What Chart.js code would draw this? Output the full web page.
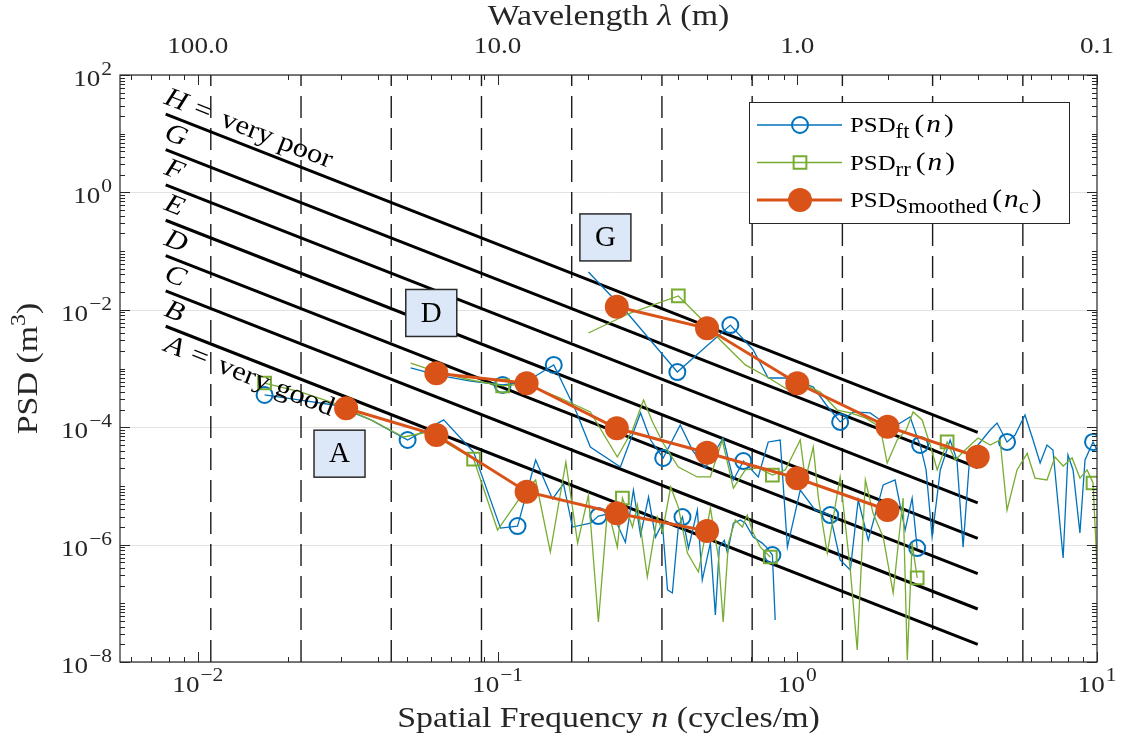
<!DOCTYPE html>
<html>
<head>
<meta charset="utf-8">
<script src="https://cdn.jsdelivr.net/npm/chart.js@4.4.1/dist/chart.umd.min.js"></script>
<style>
  html, body { margin: 0; padding: 0; background: #fff; }
  #wrap { width: 1123px; height: 744px; }
</style>
</head>
<body>
<div id="wrap"><canvas id="psdChart" width="1123" height="744"></canvas></div>
<script>
// measured road profile spectra, three road sections (A, D, G)
const ftRoadA_n = [0.0167, 0.0220, 0.0284, 0.0378, 0.0501, 0.0661, 0.0832, 0.1023, 0.1166, 0.134, 0.1525, 0.166, 0.1778, 0.204, 0.217, 0.2415, 0.267, 0.284, 0.300, 0.319, 0.3365, 0.3548, 0.369, 0.383, 0.401, 0.414, 0.4335, 0.4642, 0.482, 0.513, 0.533, 0.5495, 0.571, 0.585, 0.612, 0.646, 0.671, 0.713, 0.764, 0.794, 0.826, 0.844];
const ftRoadA_psd = [3.54e-4, 2.90e-4, 2.39e-4, 1.33e-4, 6.05e-5, 1.33e-4, 3.78e-5, 1.91e-6, 2.07e-6, 2.76e-5, 5.98e-6, 1.08e-5, 1.99e-6, 2.32e-6, 3.06e-6, 3.44e-6, 1.10e-6, 8.47e-6, 1.45e-6, 6.47e-6, 1.34e-6, 2.32e-6, 1.69e-7, 1.50e-7, 1.99e-6, 2.94e-6, 8.71e-7, 3.87e-6, 2.49e-7, 1.06e-6, 6.31e-8, 9.06e-7, 1.19e-6, 7.16e-7, 2.32e-6, 2.63e-6, 2.32e-6, 1.34e-6, 1.06e-6, 8.71e-7, 6.65e-7, 5.19e-8];
const ftRoadA_marks = [0, 4, 8, 14, 25, 40];

const ftRoadD_n = [0.0513, 0.0631, 0.0813, 0.104, 0.124, 0.154, 0.182, 0.204, 0.257, 0.300, 0.324, 0.357, 0.407, 0.447, 0.493, 0.566, 0.612, 0.661, 0.741, 0.80, 0.877, 0.927, 1.023, 1.148, 1.288, 1.39, 1.503, 1.597, 1.725, 1.935, 2.12, 2.29, 2.417, 2.512];
const ftRoadD_psd = [1.02e-3, 7.74e-4, 6.12e-4, 5.24e-4, 5.89e-4, 1.15e-3, 1.96e-4, 4.60e-5, 2.10e-5, 1.75e-4, 6.05e-5, 2.99e-5, 1.09e-4, 4.08e-5, 2.02e-5, 6.55e-5, 1.26e-5, 2.65e-5, 1.42e-5, 5.60e-5, 6.05e-5, 9.06e-7, 8.47e-6, 3.87e-6, 3.18e-6, 5.47e-7, 3.69e-7, 5.75e-6, 1.19e-6, 1.04e-5, 1.26e-5, 1.77e-6, 6.22e-6, 8.71e-7];
const ftRoadD_marks = [3, 5, 11, 17, 24, 33];

const ftRoadG_n = [0.201, 0.271, 0.398, 0.598, 0.713, 0.80, 0.948, 1.131, 1.25, 1.39, 1.538, 1.75, 1.89, 2.089, 2.38, 2.53, 2.57, 2.69, 2.818, 3.0, 3.236, 3.41, 3.575, 3.776, 4.01, 4.40, 4.64, 5.01, 5.33, 5.75, 6.12, 6.46, 6.81, 7.13, 7.71, 8.0, 8.32, 8.77, 9.12, 9.70, 10.0];
const ftRoadG_psd = [4.41e-2, 8.81e-3, 8.71e-4, 5.50e-3, 2.07e-3, 6.89e-4, 6.89e-4, 4.84e-4, 2.39e-4, 1.23e-4, 1.82e-4, 1.75e-4, 1.33e-4, 1.0e-4, 1.49e-4, 6.05e-5, 4.98e-5, 1.87e-5, 1.34e-6, 1.87e-5, 6.05e-5, 2.76e-5, 9.06e-7, 4.08e-5, 4.98e-5, 8.95e-5, 1.18e-4, 5.60e-5, 7.36e-5, 1.61e-4, 6.05e-5, 2.45e-5, 4.98e-5, 4.08e-5, 5.92e-7, 3.36e-5, 1.87e-5, 1.58e-6, 2.76e-5, 5.60e-5, 4.08e-5];
const ftRoadG_marks = [2, 3, 9, 16, 27, 39];

const rrRoadA_n = [0.0167, 0.0220, 0.0284, 0.0378, 0.0486, 0.0585, 0.0832, 0.100, 0.1194, 0.134, 0.150, 0.169, 0.185, 0.201, 0.217, 0.233, 0.251, 0.261, 0.271, 0.282, 0.293, 0.316, 0.341, 0.355, 0.378, 0.401, 0.430, 0.468, 0.513, 0.546, 0.566, 0.589, 0.621, 0.656, 0.681, 0.713, 0.753, 0.813];
const rrRoadA_psd = [5.66e-4, 3.98e-4, 2.58e-4, 1.33e-4, 6.81e-5, 8.28e-5, 2.87e-5, 1.77e-6, 6.47e-6, 1.26e-5, 7.48e-7, 2.55e-5, 1.06e-6, 7.0e-6, 4.80e-8, 4.19e-6, 9.06e-7, 6.22e-6, 3.58e-6, 1.99e-6, 4.73e-6, 2.81e-7, 2.94e-6, 1.64e-6, 9.57e-6, 4.36e-6, 7.16e-7, 3.41e-7, 4.19e-6, 5.92e-7, 4.80e-8, 1.06e-6, 2.63e-6, 1.99e-6, 3.18e-6, 1.58e-6, 9.06e-7, 6.15e-7];
const rrRoadA_marks = [0, 6, 17, 37];

const rrRoadD_n = [0.0513, 0.0631, 0.0813, 0.104, 0.124, 0.162, 0.204, 0.251, 0.282, 0.307, 0.329, 0.355, 0.401, 0.464, 0.513, 0.562, 0.612, 0.671, 0.741, 0.826, 0.912, 1.023, 1.064, 1.131, 1.175, 1.259, 1.39, 1.503, 1.585, 1.687, 1.79, 1.935, 2.089, 2.254, 2.328, 2.417, 2.512];
const rrRoadD_psd = [1.24e-3, 8.71e-4, 6.37e-4, 5.04e-4, 5.45e-4, 3.14e-4, 1.82e-4, 3.10e-5, 8.95e-5, 2.90e-4, 1.23e-4, 5.60e-5, 2.10e-5, 1.42e-5, 1.42e-5, 6.05e-5, 9.20e-6, 1.87e-5, 2.02e-5, 1.53e-5, 1.87e-5, 6.05e-5, 1.26e-5, 4.60e-5, 6.47e-6, 7.16e-7, 1.42e-5, 3.69e-7, 1.60e-8, 1.26e-5, 3.44e-6, 1.34e-6, 1.50e-7, 6.22e-6, 1.08e-8, 1.06e-6, 2.70e-7];
const rrRoadD_marks = [3, 19, 36];

const rrRoadG_n = [0.201, 0.277, 0.401, 0.475, 0.553, 0.671, 0.794, 0.97, 1.064, 1.194, 1.359, 1.503, 1.687, 1.89, 1.995, 2.154, 2.31, 2.435, 2.61, 2.776, 2.93, 3.162, 3.365, 3.63, 4.01, 4.40, 4.75, 5.01, 5.41, 5.85, 6.21, 6.81, 7.24, 7.71, 8.26, 8.77, 9.27, 9.70, 10.0];
const rrRoadG_psd = [4.03e-3, 8.81e-3, 1.72e-2, 7.24e-3, 3.06e-3, 1.15e-3, 7.16e-4, 3.83e-4, 5.24e-4, 3.98e-4, 1.96e-4, 1.75e-4, 1.44e-4, 1.0e-4, 2.45e-5, 6.05e-5, 8.95e-5, 1.82e-4, 1.33e-4, 4.98e-5, 1.87e-5, 5.60e-5, 2.76e-5, 4.08e-5, 6.55e-5, 4.98e-5, 6.05e-5, 3.87e-6, 1.87e-5, 3.58e-5, 1.36e-5, 1.26e-5, 3.10e-5, 2.18e-5, 2.99e-5, 1.36e-5, 1.87e-5, 1.12e-5, 4.15e-7];
const rrRoadG_marks = [2, 21, 37];

// octave-band smoothed PSD at the band centre frequencies n_c
const smRoadA_nc = [0.03125, 0.0625, 0.125, 0.25, 0.5];
const smRoadA_psd = [2.10e-4, 7.36e-5, 7.96e-6, 3.41e-6, 1.71e-6];
const smRoadD_nc = [0.0625, 0.125, 0.25, 0.5, 1, 2];
const smRoadD_psd = [8.28e-4, 5.60e-4, 9.57e-5, 3.68e-5, 1.35e-5, 3.88e-6];
const smRoadG_nc = [0.25, 0.5, 1, 2, 4];
const smRoadG_psd = [1.13e-2, 4.84e-3, 5.60e-4, 1.02e-4, 3.14e-5];

// ISO 8608 class boundaries, values at both ends of the drawn range
const isoN = [0.0078125, 4];
const isoStartPsd = [5.243e-3, 2.097e-2, 8.389e-2, 0.3355, 1.342, 5.369, 21.47];
const isoEndPsd = [2.0e-8, 8.0e-8, 3.2e-7, 1.28e-6, 5.12e-6, 2.048e-5, 8.192e-5];
const isoClassNames = ['A', 'B', 'C', 'D', 'E', 'F', 'G', 'H'];
const isoClassNotes = { A: 'very good', H: 'very poor' };

// octave band edges (dashed)
const octaveEdges = [0.011049, 0.022097, 0.044194, 0.088388, 0.176777, 0.353553, 0.707107, 1.414214, 2.828427, 5.656854];

// road section tags
const roadTags = ['A', 'D', 'G'];
const roadTagN = [0.0297, 0.0601, 0.229];
const roadTagPsd = [3.54e-5, 8.83e-3, 0.171];

const yLabelExps = [-8, -6, -4, -2, 0, 2];
const xLabelExps = [-2, -1, 0, 1];
const wavelengthTicks = [100.0, 10.0, 1.0, 0.1];

const BLUE = '#0072BD', GREEN = '#77AC30', ORANGE = '#D95319';
const SERIF = '"Liberation Serif", "Times New Roman", serif';
const WIDE = 1.13; // the serif face is narrower than the TeX one, widen it a bit
const font = (px, italic) => (italic ? 'italic ' : '') + px + 'px ' + SERIF;

// join the road sections into one trace, with a gap between sections
function joinSections(sections) {
  const data = [], marks = new Set();
  sections.forEach((s, k) => {
    if (k > 0) data.push({ x: s.n[0], y: null });
    const offset = data.length;
    s.n.forEach((n, i) => data.push({ x: n, y: s.psd[i] }));
    (s.marks || s.n.map((_, i) => i)).forEach(i => marks.add(offset + i));
  });
  return { data, marks };
}

const ft = joinSections([
  { n: ftRoadA_n, psd: ftRoadA_psd, marks: ftRoadA_marks },
  { n: ftRoadD_n, psd: ftRoadD_psd, marks: ftRoadD_marks },
  { n: ftRoadG_n, psd: ftRoadG_psd, marks: ftRoadG_marks }
]);
const rr = joinSections([
  { n: rrRoadA_n, psd: rrRoadA_psd, marks: rrRoadA_marks },
  { n: rrRoadD_n, psd: rrRoadD_psd, marks: rrRoadD_marks },
  { n: rrRoadG_n, psd: rrRoadG_psd, marks: rrRoadG_marks }
]);
const sm = joinSections([
  { n: smRoadA_nc, psd: smRoadA_psd },
  { n: smRoadD_nc, psd: smRoadD_psd },
  { n: smRoadG_nc, psd: smRoadG_psd }
]);

const isoData = [];
isoStartPsd.forEach((p, i) => {
  isoData.push({ x: isoN[0], y: p }, { x: isoN[1], y: isoEndPsd[i] }, { x: isoN[1], y: null });
});
const edgeData = [];
octaveEdges.forEach(e => edgeData.push({ x: e, y: 1e-8 }, { x: e, y: 1e2 }, { x: e, y: null }));

// draw a run of text pieces (normal / italic / sub / superscript), widened by WIDE
function drawRuns(ctx, runs, x, y, align) {
  let w = 0;
  runs.forEach(r => {
    ctx.font = r.font;
    r.w = r.t ? ctx.measureText(r.t).width * WIDE : 0;
    w += r.w + (r.gap || 0);
  });
  let cx = align === 'center' ? x - w / 2 : align === 'right' ? x - w : x;
  ctx.textAlign = 'left';
  runs.forEach(r => {
    cx += r.gap || 0;
    if (r.t) {
      ctx.font = r.font;
      ctx.save();
      ctx.translate(cx, y + (r.dy || 0));
      ctx.scale(WIDE, 1);
      ctx.fillText(r.t, 0, 0);
      ctx.restore();
    }
    cx += r.w;
  });
  return w;
}
function powRuns(exp, size) {
  const e = exp < 0 ? '\u2212' + (-exp) : String(exp);
  return [{ t: '10', font: font(size) }, { t: e, font: font(Math.round(size * 0.8)), dy: -Math.round(size * 0.45), gap: 1 }];
}

const legendRows = [
  { ds: 2, sub: 'ft', subC: false },
  { ds: 1, sub: 'rr', subC: false },
  { ds: 0, sub: 'Smoothed', subC: true }
];
function legendRuns(row) {
  const runs = [{ t: 'PSD', font: font(22) }, { t: row.sub, font: font(20), dy: 6 }];
  runs.push({ t: '(', font: font(26), gap: 5 }, { t: 'n', font: font(26, true), gap: 2 });
  if (row.subC) runs.push({ t: 'c', font: font(20), dy: 6 });
  runs.push({ t: ')', font: font(26), gap: 3 });
  return runs;
}

function drawMarker(ctx, ds, x, y) {
  const r = typeof ds.pointRadius === 'number' ? ds.pointRadius : ds.legendRadius;
  ctx.beginPath();
  if (ds.pointStyle === 'rect') {
    const h = r * Math.SQRT1_2;
    ctx.rect(x - h, y - h, 2 * h, 2 * h);
  } else {
    ctx.arc(x, y, r, 0, Math.PI * 2);
  }
  if (ds.legendFill) { ctx.fillStyle = ds.pointBackgroundColor; ctx.fill(); }
  else { ctx.lineWidth = ds.pointBorderWidth; ctx.strokeStyle = ds.pointBorderColor; ctx.stroke(); }
}

const decor = {
  id: 'psdDecor',
  beforeDatasetsDraw(chart) {
    const { ctx, chartArea: a, scales: { y } } = chart;
    ctx.save();
    ctx.strokeStyle = '#e2e2e2';
    ctx.lineWidth = 1;
    yLabelExps.forEach(e => {
      const py = Math.round(y.getPixelForValue(Math.pow(10, e))) + 0.5;
      ctx.beginPath(); ctx.moveTo(a.left, py); ctx.lineTo(a.right, py); ctx.stroke();
    });
    ctx.restore();
  },
  afterDatasetsDraw(chart) {
    const { ctx, chartArea: a, scales: { x, y } } = chart;
    ctx.save();
    ctx.fillStyle = '#000';
    ctx.textBaseline = 'alphabetic';

    // ISO class labels, written along the boundary lines
    const x0 = x.getPixelForValue(isoN[0]), x1 = x.getPixelForValue(isoN[1]);
    const ang = Math.atan2(y.getPixelForValue(isoEndPsd[0]) - y.getPixelForValue(isoStartPsd[0]), x1 - x0);
    isoClassNames.forEach((c, i) => {
      const v = i === 0 ? isoStartPsd[0] / 2 : isoStartPsd[i - 1] * 2;
      const py = y.getPixelForValue(v);
      ctx.save();
      ctx.translate(x0, py);
      ctx.rotate(ang);
      ctx.textBaseline = 'middle';
      const runs = [{ t: c, font: font(27, true) }];
      if (isoClassNotes[c]) {
        runs.push({ t: '=', font: font(27), gap: 9 }, { t: isoClassNotes[c], font: font(27), gap: 12 });
      }
      drawRuns(ctx, runs, 0, 0, 'left');
      ctx.restore();
    });

    // road section tags
    roadTags.forEach((t, i) => {
      const cx = x.getPixelForValue(roadTagN[i]), cy = y.getPixelForValue(roadTagPsd[i]);
      ctx.fillStyle = '#dce8f8';
      ctx.fillRect(cx - 25.5, cy - 23.5, 51, 47);
      ctx.strokeStyle = '#2b2b2b';
      ctx.lineWidth = 1.5;
      ctx.strokeRect(cx - 25.5, cy - 23.5, 51, 47);
      ctx.fillStyle = '#000';
      ctx.font = font(29);
      ctx.textAlign = 'center';
      ctx.textBaseline = 'middle';
      ctx.fillText(t, cx, cy + 1);
    });
    ctx.textBaseline = 'alphabetic';

    // axes box and inward ticks
    ctx.strokeStyle = '#262626';
    ctx.lineWidth = 1.2;
    ctx.strokeRect(a.left, a.top, a.right - a.left, a.bottom - a.top);
    ctx.lineWidth = 1;
    ctx.beginPath();
    for (let k = -3; k <= 1; k++) {
      for (let m = 1; m <= 9; m++) {
        const v = m * Math.pow(10, k);
        if (v < x.min * 0.999 || v > x.max * 1.001) continue;
        const px = Math.round(x.getPixelForValue(v)) + 0.5;
        const len = m === 1 ? 10 : 5;
        ctx.moveTo(px, a.bottom); ctx.lineTo(px, a.bottom - len);
        ctx.moveTo(px, a.top); ctx.lineTo(px, a.top + len);
      }
    }
    for (let k = -8; k <= 2; k++) {
      for (let m = 1; m <= 9; m++) {
        const v = m * Math.pow(10, k);
        if (v > y.max * 1.001) continue;
        const py = Math.round(y.getPixelForValue(v)) + 0.5;
        const len = (m === 1 && k % 2 === 0) ? 10 : 5;
        ctx.moveTo(a.left, py); ctx.lineTo(a.left + len, py);
        ctx.moveTo(a.right, py); ctx.lineTo(a.right - len, py);
      }
    }
    ctx.stroke();

    // tick labels
    ctx.fillStyle = '#262626';
    yLabelExps.forEach(e => {
      const py = y.getPixelForValue(Math.pow(10, e));
      drawRuns(ctx, powRuns(e, 24), a.left - 8, py + 11, 'right');
    });
    xLabelExps.forEach(e => {
      const px = x.getPixelForValue(Math.pow(10, e));
      drawRuns(ctx, powRuns(e, 24), px, a.bottom + 30, 'center');
    });
    wavelengthTicks.forEach(l => {
      const px = x.getPixelForValue(1 / l);
      drawRuns(ctx, [{ t: l.toFixed(1), font: font(24) }], px, a.top - 22, 'center');
    });

    // axis titles
    const midX = (a.left + a.right) / 2, midY = (a.top + a.bottom) / 2;
    drawRuns(ctx, [{ t: 'Spatial Frequency ', font: font(30) }, { t: 'n', font: font(30, true) }, { t: ' (cycles/m)', font: font(30) }], midX, a.bottom + 65, 'center');
    drawRuns(ctx, [{ t: 'Wavelength ', font: font(30) }, { t: '\u03bb', font: font(30, true) }, { t: ' (m)', font: font(30) }], midX, a.top - 50, 'center');
    ctx.save();
    ctx.translate(37, midY);
    ctx.rotate(-Math.PI / 2);
    drawRuns(ctx, [{ t: 'PSD (m', font: font(30) }, { t: '3', font: font(21), dy: -12 }, { t: ')', font: font(30) }], 0, 0, 'center');
    ctx.restore();

    // legend
    const lx = 749, ly = 102, lw = 320, lh = 121;
    ctx.fillStyle = '#fff';
    ctx.fillRect(lx, ly, lw, lh);
    ctx.strokeStyle = '#262626';
    ctx.lineWidth = 1;
    ctx.strokeRect(lx + 0.5, ly + 0.5, lw, lh);
    legendRows.forEach((row, i) => {
      const ds = chart.data.datasets[row.ds];
      const ry = 125 + i * 37.5;
      ctx.strokeStyle = ds.borderColor;
      ctx.lineWidth = ds.borderWidth;
      ctx.beginPath(); ctx.moveTo(lx + 8, ry); ctx.lineTo(lx + 93, ry); ctx.stroke();
      drawMarker(ctx, ds, lx + 51, ry);
      ctx.fillStyle = '#000';
      drawRuns(ctx, legendRuns(row), lx + 101, ry + 7, 'left');
    });
    ctx.restore();
  }
};

new Chart(document.getElementById('psdChart'), {
  type: 'line',
  data: {
    datasets: [
      {
        label: 'PSD smoothed',
        data: sm.data,
        borderColor: ORANGE,
        borderWidth: 3,
        pointStyle: 'circle',
        pointRadius: 12,
        pointBackgroundColor: ORANGE,
        pointBorderColor: ORANGE,
        pointBorderWidth: 0,
        legendFill: true
      },
      {
        label: 'PSD rr',
        data: rr.data,
        borderColor: GREEN,
        borderWidth: 1.3,
        pointStyle: 'rect',
        pointRadius: ctx => rr.marks.has(ctx.dataIndex) ? 9 : 0,
        legendRadius: 9,
        pointBackgroundColor: 'rgba(0,0,0,0)',
        pointBorderColor: GREEN,
        pointBorderWidth: 2
      },
      {
        label: 'PSD ft',
        data: ft.data,
        borderColor: BLUE,
        borderWidth: 1.3,
        pointStyle: 'circle',
        pointRadius: ctx => ft.marks.has(ctx.dataIndex) ? 8 : 0,
        legendRadius: 8,
        pointBackgroundColor: 'rgba(0,0,0,0)',
        pointBorderColor: BLUE,
        pointBorderWidth: 2
      },
      {
        label: 'ISO 8608',
        data: isoData,
        borderColor: '#000',
        borderWidth: 3,
        pointRadius: 0
      },
      {
        label: 'octave bands',
        data: edgeData,
        borderColor: '#1a1a1a',
        borderWidth: 1.4,
        borderDash: [22, 10],
        pointRadius: 0
      }
    ]
  },
  options: {
    responsive: false,
    animation: false,
    devicePixelRatio: 1,
    events: [],
    spanGaps: false,
    layout: { padding: { left: 120, right: 26, top: 75, bottom: 82 } },
    elements: { line: { tension: 0 } },
    plugins: { legend: { display: false }, tooltip: { enabled: false } },
    scales: {
      x: { type: 'logarithmic', min: 0.0055, max: 10, display: false },
      y: { type: 'logarithmic', min: 1e-8, max: 1e2, display: false }
    }
  },
  plugins: [decor]
});
</script>
</body>
</html>
